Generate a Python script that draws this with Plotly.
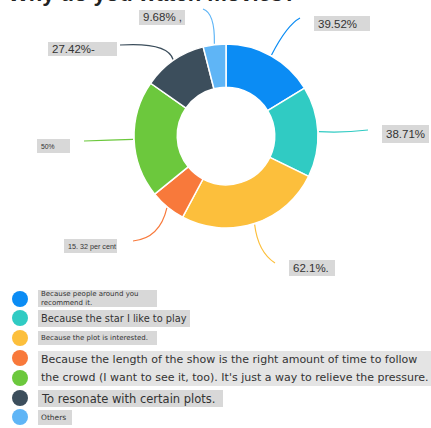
import math
import plotly.graph_objects as go

# ---------------- data ----------------
categories = [
    "Because people around you recommend it.",
    "Because the star I like to play",
    "Because the plot is interested.",
    "Because the length of the show is the right amount of time",
    "To follow the crowd (I want to see it, too). It's just a way to relieve the pressure.",
    "To resonate with certain plots.",
    "Others",
]
values = [39.52, 38.71, 62.1, 15.32, 50, 27.42, 9.68]
value_labels = ["39.52%", "38.71%", "62.1%.", "15. 32 per cent", "50%", "27.42%-", "9.68% ,"]
legend_texts = [
    "Because people around you<br>recommend it.",
    "Because the star I like to play",
    "Because the plot is interested.",
    "Because the length of the show is the right amount of time to follow",
    "the crowd (I want to see it, too). It's just a way to relieve the pressure.",
    "To resonate with certain plots.",
    "Others",
]
title_text = "Why do you watch movies?"

# ---------------- styles / layout ----------------
colors = ["#0b8cf4", "#30cbc3", "#fcbf3c", "#f8793b", "#6cc83d", "#3c4e5c", "#5fb5f6"]
W, H = 431, 428
CX, CY, R = 226, 136, 92
FONT = "Liberation Sans, Arial, sans-serif"
LFONT = "DejaVu Sans, Verdana, sans-serif"
GREY = "#d8d8d8"
TXT = "#333333"


def px(x):
    return x / W


def py(y):
    return 1 - y / H


# label boxes (x0, x1, y0, y1) in pixels, font size
label_boxes = [
    (314, 370, 16, 31, 11.5),
    (382, 429, 125, 143, 11.5),
    (289, 335, 260, 276, 11.5),
    (64, 117, 239, 253, 7.2),
    (37, 70, 139, 153, 6.8),
    (48, 117, 42, 56, 11.5),
    (139, 185, 10, 25, 11.5),
]
# leader line end and control points (pixels)
line_ends = [(300, 18), (368, 130), (275, 263), (133, 241), (84, 141), (120, 45), (203, 9)]
line_ctrl = [(287, 25), (343, 133), (258, 252), (160, 238), (110, 140), (168, 42), (215, 13)]

# legend geometry
leg_cy = [299, 318, 338, 358, 378, 398, 417]
leg_boxes = [
    (38, 157, 290, 307, 7.0),
    (38, 190, 310, 327, 9.8),
    (38, 157, 331, 345, 7.0),
    (38, 431, 351, 368, 11.0),
    (38, 431, 368, 386, 11.0),
    (38, 223, 390, 407, 11.5),
    (38, 72, 410, 425, 7.5),
]

fig = go.Figure()
fig.add_trace(go.Pie(
    labels=categories,
    values=values,
    sort=False,
    direction="clockwise",
    rotation=0,
    hole=0.53,
    marker=dict(colors=colors, line=dict(color="white", width=1.5)),
    textinfo="none",
    hoverinfo="label+value",
    showlegend=False,
    domain=dict(x=[px(CX - R), px(CX + R)], y=[py(CY + R), py(CY - R)]),
))

shapes = []
annotations = []

# leader lines + value labels
total = sum(values)
cum = 0.0
for i, v in enumerate(values):
    mid = (cum + v / 2) / total * 2 * math.pi
    cum += v
    sx = CX + (R + 1) * math.sin(mid)
    sy = CY - (R + 1) * math.cos(mid)
    ex, ey = line_ends[i]
    qx, qy = line_ctrl[i]
    shapes.append(dict(
        type="path", xref="paper", yref="paper",
        path=f"M {px(sx)},{py(sy)} Q {px(qx)},{py(qy)} {px(ex)},{py(ey)}",
        line=dict(color=colors[i], width=1.2), layer="below",
    ))
    x0, x1, y0, y1, fs = label_boxes[i]
    shapes.append(dict(type="rect", xref="paper", yref="paper",
                       x0=px(x0), x1=px(x1), y0=py(y1), y1=py(y0),
                       fillcolor=GREY, line=dict(width=0), layer="below"))
    annotations.append(dict(
        x=px(x0 + 2), y=py((y0 + y1) / 2), xref="paper", yref="paper",
        xanchor="left", yanchor="middle", showarrow=False,
        text=value_labels[i], font=dict(family=FONT, size=fs, color=TXT),
    ))

# custom legend
for i, cy in enumerate(leg_cy):
    shapes.append(dict(type="circle", xref="paper", yref="paper",
                       x0=px(12), x1=px(28), y0=py(cy + 8), y1=py(cy - 8),
                       fillcolor=colors[i], line=dict(width=0)))
    x0, x1, y0, y1, fs = leg_boxes[i]
    shapes.append(dict(type="rect", xref="paper", yref="paper",
                       x0=px(x0), x1=px(x1), y0=py(y1), y1=py(y0),
                       fillcolor=GREY if i not in (3, 4) else "#e4e4e4",
                       line=dict(width=0), layer="below"))
    annotations.append(dict(
        x=px(x0 + 1), y=py((y0 + y1) / 2), xref="paper", yref="paper",
        xanchor="left", yanchor="middle", align="left", showarrow=False,
        text=legend_texts[i], font=dict(family=LFONT, size=fs, color=TXT),
    ))

# title (cut off at the top, as in the reference)
annotations.append(dict(
    x=px(6), y=py(8), xref="paper", yref="paper",
    xanchor="left", yanchor="bottom", showarrow=False,
    text=f"<b>{title_text}</b>", font=dict(family=FONT, size=22, color="#222222"),
))

fig.update_layout(
    width=W, height=H,
    margin=dict(l=0, r=0, t=0, b=0),
    paper_bgcolor="white", plot_bgcolor="white",
    shapes=shapes, annotations=annotations,
    showlegend=False,
)

fig.write_html("out.html", config={"displayModeBar": False},
               post_script="document.body.style.margin='0px';")
